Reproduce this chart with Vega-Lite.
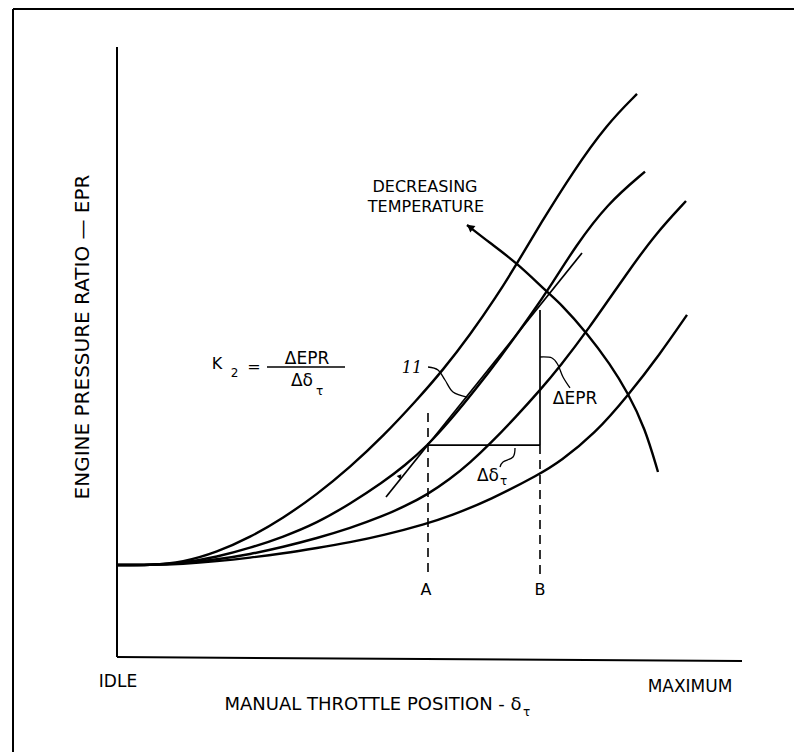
{
  "$schema": "https://vega.github.io/schema/vega-lite/v6.json",
  "width": 625,
  "height": 610,
  "autosize": {"type": "none"},
  "padding": {"left": 117, "top": 47, "right": 52, "bottom": 95},
  "background": "white",
  "config": {"view": {"stroke": null}},
  "datasets": {
    "curves": [
      {"s":"c1","x":0,"y":15.08},{"s":"c1","x":5.28,"y":15.08},{"s":"c1","x":10.56,"y":15.51},{"s":"c1","x":16.0,"y":17.18},{"s":"c1","x":21.28,"y":19.61},{"s":"c1","x":26.56,"y":22.75},{"s":"c1","x":32.0,"y":26.66},{"s":"c1","x":37.28,"y":31.1},{"s":"c1","x":42.56,"y":36.18},{"s":"c1","x":48.0,"y":42.15},{"s":"c1","x":52.16,"y":47.05},{"s":"c1","x":56.48,"y":52.8},{"s":"c1","x":60.64,"y":58.98},{"s":"c1","x":64.0,"y":64.49},{"s":"c1","x":67.68,"y":70.9},{"s":"c1","x":72.96,"y":79.56},{"s":"c1","x":78.4,"y":87.36},{"s":"c1","x":83.2,"y":92.3},
      {"s":"c2","x":0,"y":15.08},{"s":"c2","x":5.28,"y":15.08},{"s":"c2","x":10.56,"y":15.41},{"s":"c2","x":16.0,"y":16.39},{"s":"c2","x":21.28,"y":17.87},{"s":"c2","x":26.56,"y":19.67},{"s":"c2","x":32.0,"y":21.97},{"s":"c2","x":37.28,"y":25.1},{"s":"c2","x":42.56,"y":28.67},{"s":"c2","x":46.08,"y":31.41},{"s":"c2","x":49.6,"y":34.59},{"s":"c2","x":53.28,"y":38.74},{"s":"c2","x":57.28,"y":43.74},{"s":"c2","x":61.28,"y":49.07},{"s":"c2","x":66.08,"y":55.85},{"s":"c2","x":69.76,"y":61.43},{"s":"c2","x":73.28,"y":67.2},{"s":"c2","x":78.4,"y":74.28},{"s":"c2","x":84.48,"y":79.57},
      {"s":"c3","x":0,"y":15.08},{"s":"c3","x":5.28,"y":15.08},{"s":"c3","x":10.56,"y":15.41},{"s":"c3","x":16.0,"y":15.97},{"s":"c3","x":21.28,"y":16.84},{"s":"c3","x":26.56,"y":18.03},{"s":"c3","x":32.0,"y":19.48},{"s":"c3","x":37.28,"y":21.1},{"s":"c3","x":42.56,"y":23.1},{"s":"c3","x":46.08,"y":24.72},{"s":"c3","x":49.6,"y":26.59},{"s":"c3","x":53.28,"y":29.15},{"s":"c3","x":56.48,"y":31.84},{"s":"c3","x":59.68,"y":34.95},{"s":"c3","x":63.68,"y":39.21},{"s":"c3","x":67.68,"y":43.72},{"s":"c3","x":70.88,"y":47.66},{"s":"c3","x":75.2,"y":53.41},{"s":"c3","x":81.76,"y":63.15},{"s":"c3","x":86.08,"y":69.26},{"s":"c3","x":91.04,"y":74.75},
      {"s":"c4","x":0,"y":15.08},{"s":"c4","x":5.28,"y":15.08},{"s":"c4","x":10.56,"y":15.25},{"s":"c4","x":16.0,"y":15.69},{"s":"c4","x":21.28,"y":16.28},{"s":"c4","x":26.56,"y":16.98},{"s":"c4","x":32.0,"y":17.87},{"s":"c4","x":37.28,"y":18.79},{"s":"c4","x":42.56,"y":19.92},{"s":"c4","x":49.6,"y":21.87},{"s":"c4","x":53.28,"y":23.11},{"s":"c4","x":59.68,"y":25.74},{"s":"c4","x":67.68,"y":30.0},{"s":"c4","x":70.88,"y":32.03},{"s":"c4","x":76.48,"y":36.62},{"s":"c4","x":81.76,"y":42.85},{"s":"c4","x":86.88,"y":49.67},{"s":"c4","x":91.2,"y":56.08},
      {"s":"arc","x":56.0,"y":70.82},{"s":"arc","x":59.68,"y":67.87},{"s":"arc","x":64.0,"y":64.59},{"s":"arc","x":68.96,"y":59.67},{"s":"arc","x":70.88,"y":58.03},{"s":"arc","x":75.2,"y":53.11},{"s":"arc","x":78.88,"y":48.03},{"s":"arc","x":81.76,"y":43.28},{"s":"arc","x":84.48,"y":37.54},{"s":"arc","x":86.56,"y":30.33}
    ],
    "lines": [
      {"s":"tangent","x":43.04,"y":26.23},{"s":"tangent","x":74.4,"y":66.23},
      {"s":"horiz","x":49.76,"y":34.75},{"s":"horiz","x":67.68,"y":34.75},
      {"s":"vert","x":67.68,"y":56.89},{"s":"vert","x":67.68,"y":34.75},
      {"s":"bar","x":24.0,"y":47.54},{"s":"bar","x":36.48,"y":47.54}
    ],
    "frame": [
      {"s":"axisY","x":0,"y":0},{"s":"axisY","x":0,"y":100},
      {"s":"axisX","x":0,"y":0},{"s":"axisX","x":100,"y":-0.66},
      {"s":"top","x":-16.64,"y":106.23},{"s":"top","x":108.32,"y":106.23},
      {"s":"left","x":-16.64,"y":106.23},{"s":"left","x":-16.64,"y":-15.57}
    ],
    "dashed": [
      {"s":"A","x":49.76,"y":40.0},{"s":"A","x":49.76,"y":13.44},
      {"s":"B","x":67.68,"y":34.75},{"s":"B","x":67.68,"y":13.44}
    ],
    "leaders": [
      {"s":"l11","x":49.76,"y":47.54},{"s":"l11","x":51.36,"y":47.05},{"s":"l11","x":52.48,"y":45.41},{"s":"l11","x":53.76,"y":43.44},{"s":"l11","x":56.0,"y":42.62},
      {"s":"lepr","x":67.68,"y":49.18},{"s":"lepr","x":69.6,"y":49.02},{"s":"lepr","x":70.56,"y":47.87},{"s":"lepr","x":71.36,"y":45.9},{"s":"lepr","x":72.48,"y":44.1},
      {"s":"ld","x":63.68,"y":34.26},{"s":"ld","x":63.36,"y":32.79},{"s":"ld","x":61.76,"y":31.97},{"s":"ld","x":61.28,"y":31.15}
    ],
    "annoBig": [
      {"t":"ΔEPR","x":73.28,"y":42.3},
      {"t":"ΔEPR","x":30.4,"y":48.85}
    ],
    "annoTemp": [
      {"t":"DECREASING","x":49.28,"y":76.97},
      {"t":"TEMPERATURE","x":49.44,"y":73.77}
    ],
    "annoMid": [
      {"t":"A","x":49.44,"y":10.98},
      {"t":"B","x":67.68,"y":10.98},
      {"t":"K","x":16.0,"y":48.03},
      {"t":"=","x":21.92,"y":47.54}
    ],
    "annoRight": [
      {"t":"Δδ","x":61.12,"y":29.67},
      {"t":"Δδ","x":31.36,"y":45.25}
    ],
    "subs": [
      {"t":"τ","x":61.28,"y":28.85},
      {"t":"τ","x":31.84,"y":43.61},
      {"t":"2","x":18.2,"y":46.56}
    ],
    "eleven": [{"t":"11","x":47.2,"y":47.38}],
    "axisText": [
      {"t":"IDLE","x":0.16,"y":-4.1},
      {"t":"MAXIMUM","x":91.68,"y":-4.92}
    ],
    "xTitle": [{"t":"MANUAL THROTTLE POSITION - δ","x":40.96,"y":-7.87}],
    "xTitleSub": [{"t":"τ","x":64.96,"y":-9.02}],
    "yTitle": [{"t":"ENGINE PRESSURE RATIO — EPR","x":-5.44,"y":52.46}],
    "arrowHead": [{"x":56.48,"y":70.49}],
    "barb": [{"x":45.28,"y":29.67}]
  },
  "encoding": {
    "x": {"field":"x","type":"quantitative","scale":{"domain":[0,100],"nice":false,"zero":false},"axis":null},
    "y": {"field":"y","type":"quantitative","scale":{"domain":[0,100],"nice":false,"zero":false},"axis":null}
  },
  "layer": [
    {"data":{"name":"frame"},"mark":{"type":"line","color":"black","strokeWidth":2},"encoding":{"detail":{"field":"s"},"order":{"value":null}}},
    {"data":{"name":"curves"},"mark":{"type":"line","color":"black","strokeWidth":2.4,"interpolate":"basis"},"encoding":{"detail":{"field":"s"}}},
    {"data":{"name":"lines"},"mark":{"type":"line","color":"black","strokeWidth":1.7},"encoding":{"detail":{"field":"s"},"order":{"value":null}}},
    {"data":{"name":"dashed"},"mark":{"type":"line","color":"black","strokeWidth":1.6,"strokeDash":[9,6]},"encoding":{"detail":{"field":"s"},"order":{"value":null}}},
    {"data":{"name":"leaders"},"mark":{"type":"line","color":"black","strokeWidth":1.3,"interpolate":"cardinal"},"encoding":{"detail":{"field":"s"},"order":{"value":null}}},
    {"data":{"name":"arrowHead"},"mark":{"type":"point","shape":"triangle-up","filled":true,"color":"black","opacity":1,"size":70,"angle":308}},
    {"data":{"name":"barb"},"mark":{"type":"point","shape":"triangle-up","filled":true,"color":"black","opacity":1,"size":25,"angle":39}},
    {"data":{"name":"annoBig"},"mark":{"type":"text","font":"DejaVu Sans","fontSize":17,"align":"center","baseline":"middle","color":"black"},"encoding":{"text":{"field":"t"}}},
    {"data":{"name":"annoTemp"},"mark":{"type":"text","font":"DejaVu Sans","fontSize":16,"align":"center","baseline":"middle","color":"black"},"encoding":{"text":{"field":"t"}}},
    {"data":{"name":"annoMid"},"mark":{"type":"text","font":"DejaVu Sans","fontSize":16,"align":"center","baseline":"middle","color":"black"},"encoding":{"text":{"field":"t"}}},
    {"data":{"name":"annoRight"},"mark":{"type":"text","font":"DejaVu Sans","fontSize":17,"align":"right","baseline":"middle","color":"black"},"encoding":{"text":{"field":"t"}}},
    {"data":{"name":"subs"},"mark":{"type":"text","font":"DejaVu Sans","fontSize":12,"align":"left","baseline":"middle","color":"black"},"encoding":{"text":{"field":"t"}}},
    {"data":{"name":"eleven"},"mark":{"type":"text","font":"DejaVu Serif","fontStyle":"italic","fontSize":16,"align":"center","baseline":"middle","color":"black"},"encoding":{"text":{"field":"t"}}},
    {"data":{"name":"axisText"},"mark":{"type":"text","font":"DejaVu Sans","fontSize":17,"align":"center","baseline":"middle","color":"black"},"encoding":{"text":{"field":"t"}}},
    {"data":{"name":"xTitle"},"mark":{"type":"text","font":"DejaVu Sans","fontSize":18,"align":"center","baseline":"middle","color":"black"},"encoding":{"text":{"field":"t"}}},
    {"data":{"name":"xTitleSub"},"mark":{"type":"text","font":"DejaVu Sans","fontSize":12,"align":"left","baseline":"middle","color":"black"},"encoding":{"text":{"field":"t"}}},
    {"data":{"name":"yTitle"},"mark":{"type":"text","font":"DejaVu Sans","fontSize":20,"angle":270,"align":"center","baseline":"middle","color":"black"},"encoding":{"text":{"field":"t"}}}
  ]
}
